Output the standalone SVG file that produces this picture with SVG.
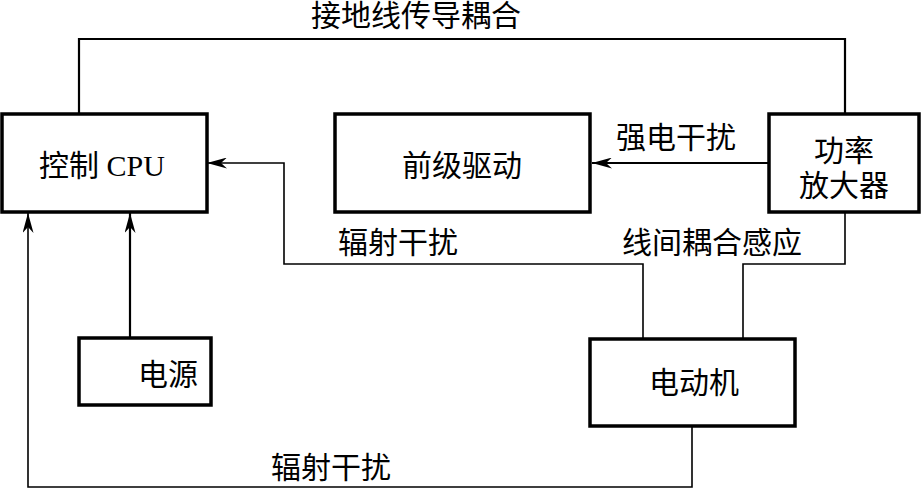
<svg xmlns="http://www.w3.org/2000/svg" width="922" height="489" viewBox="0 0 922 489">
<style>
.box{fill:#fff;stroke:#000;stroke-width:3.5}
.t{font-family:"Liberation Serif","Noto Sans CJK SC",serif;font-size:30px;fill:#000;text-anchor:middle}
.c{fill:none;stroke:#000;stroke-width:1.6}
.c2{fill:none;stroke:#000;stroke-width:2.2}
</style>
<defs>
<marker id="ar" viewBox="0 0 20 11" refX="20" refY="5.5" markerWidth="20" markerHeight="11" markerUnits="userSpaceOnUse" orient="auto">
<path d="M0,0 L20,5.5 L0,11 L6,5.5 z" fill="#000"/>
</marker>
</defs>
<g id="connectors">
<path class="c2" d="M79,114 V39 H845 V114"/>
<path class="c2" d="M769,163 H592" marker-end="url(#ar)"/>
<path class="c" d="M643,339 V264 H284 V163 H207" marker-end="url(#ar)"/>
<path class="c" d="M845,212 V264 H743 V339"/>
<path class="c" d="M692,426 V487 H28 V213" marker-end="url(#ar)"/>
<path class="c2" d="M130,338 V213" marker-end="url(#ar)"/>
<text class="t" x="416" y="26">接地线传导耦合</text>
<text class="t" x="676" y="148">强电干扰</text>
<text class="t" x="398" y="253">辐射干扰</text>
<text class="t" x="712" y="253">线间耦合感应</text>
<text class="t" x="331" y="478">辐射干扰</text>
</g>
<g id="cpu">
<rect class="box" x="2" y="114" width="205" height="98"/>
<text class="t" x="102" y="176">控制 CPU</text>
</g>
<g id="predrive">
<rect class="box" x="335" y="114" width="255" height="98"/>
<text class="t" x="462" y="176">前级驱动</text>
</g>
<g id="amp">
<rect class="box" x="769" y="114" width="150" height="98"/>
<text class="t" x="844" y="161">功率</text>
<text class="t" x="844" y="196">放大器</text>
</g>
<g id="power">
<rect class="box" x="79" y="338" width="132" height="67"/>
<text class="t" x="168" y="385">电源</text>
</g>
<g id="motor">
<rect class="box" x="590" y="339" width="205" height="87"/>
<text class="t" x="694" y="393">电动机</text>
</g>
</svg>
